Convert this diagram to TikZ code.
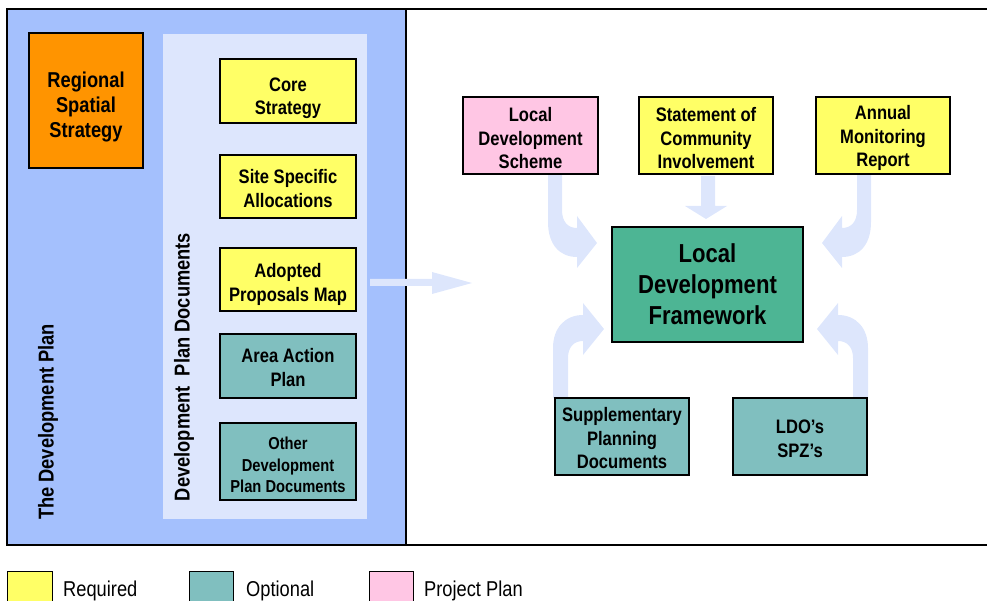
\documentclass[tikz,border=0pt]{standalone}
\usepackage{fontspec}
\setmainfont{Liberation Sans}[FakeStretch=0.85]
\newcommand\pushdn[1]{\rule{0pt}{#1}}
\begin{document}
\begin{tikzpicture}[x=1pt,y=-1pt,
  box/.style={draw=black, line width=1.2pt, inner sep=0pt, align=center,
    font=\bfseries\fontsize{19.5}{23.5}\selectfont},
  blockarrow/.style={fill=arrowblue, draw=none},
  lgd/.style={draw=black, line width=1pt},
  lgdtext/.style={anchor=base west, inner sep=0pt, font=\fontsize{21.5}{24}\selectfont},
  sidetext/.style={rotate=90, inner sep=0pt, font=\bfseries\fontsize{21.5}{24}\selectfont}
]
\definecolor{arrowblue}{RGB}{221,230,252}
\definecolor{panelblue}{RGB}{164,192,253}
\definecolor{innerblue}{RGB}{221,230,253}
\definecolor{orangebox}{RGB}{255,148,0}
\definecolor{yellowbox}{RGB}{255,255,102}
\definecolor{tealbox}{RGB}{128,191,191}
\definecolor{pinkbox}{RGB}{255,198,228}
\definecolor{greenbox}{RGB}{77,181,148}

\useasboundingbox (0,0) rectangle (987,601);
\clip (0,0) rectangle (987,601);

% panels
\fill[panelblue] (7,9) rectangle (406,545);
\fill[innerblue] (163,34) rectangle (367,519);
\draw[line width=1.3pt] (987,9) -- (7,9) -- (7,545) -- (987,545);
\draw[line width=1.3pt] (406,9) -- (406,545);

% side labels
\node[sidetext] (tdp) at (48,422) {The Development Plan};
\node[sidetext] (dpd) at (184,367) {Development\ \ Plan Documents};

% left boxes
\node[box, fill=orangebox, minimum width=114pt, minimum height=135pt,
  font=\bfseries\fontsize{21.5}{25}\selectfont] (rss) at (86,100.5)
  {\pushdn{28pt}Regional\\Spatial\\Strategy};
\node[box, fill=yellowbox, minimum width=136pt, minimum height=64pt] (core) at (288,91) {\pushdn{28pt}Core\\Strategy};
\node[box, fill=yellowbox, minimum width=136pt, minimum height=63pt] (site) at (288,186.5) {\pushdn{18pt}Site Specific\\Allocations};
\node[box, fill=yellowbox, minimum width=136pt, minimum height=63pt] (apm) at (288,279.5) {\pushdn{24pt}Adopted\\Proposals Map};
\node[box, fill=tealbox, minimum width=136pt, minimum height=64pt] (aap) at (288,366) {\pushdn{17pt}Area Action\\Plan};
\node[box, fill=tealbox, minimum width=136pt, minimum height=77pt,
  font=\bfseries\fontsize{17.3}{21.5}\selectfont] (odpd) at (288,461.5)
  {\pushdn{19.5pt}Other\\Development\\Plan Documents};

% horizontal arrow
\coordinate (hstart) at (370,282.5);
\fill[arrowblue] (hstart) ++(0,-3.5) -- (432,279) -- (432,272) -- (472,283) -- (432,294) -- (432,286) -- (370,286) -- cycle;

% block arrows (behind boxes)
\fill[blockarrow] (548,174) -- (548,222) .. controls (548,245) and (560,257) .. (577,257)
  -- (577,268) -- (597,243) -- (577,216) -- (577,228)
  .. controls (568,228) and (562,222) .. (562,210) -- (562,174) -- cycle;
\fill[blockarrow] (871,174) -- (871,222) .. controls (871,245) and (859,257) .. (842,257)
  -- (842,268) -- (822,243) -- (842,216) -- (842,228)
  .. controls (851,228) and (857,222) .. (857,210) -- (857,174) -- cycle;
\fill[blockarrow] (701,176) -- (701,206) -- (685,206) -- (706,219) -- (727,206) -- (715,206) -- (715,176) -- cycle;
\fill[blockarrow] (553,398) -- (553,348) .. controls (553,328) and (565,315) .. (583,315)
  -- (583,303) -- (604,329) -- (583,355) -- (583,341)
  .. controls (574,341) and (568,347) .. (568,358) -- (568,398) -- cycle;
\fill[blockarrow] (868,398) -- (868,348) .. controls (868,328) and (856,315) .. (838,315)
  -- (838,303) -- (817,329) -- (838,355) -- (838,341)
  .. controls (847,341) and (853,347) .. (853,358) -- (853,398) -- cycle;

% right boxes
\node[box, fill=pinkbox, minimum width=135pt, minimum height=77pt] (lds) at (530.5,135.5) {\pushdn{20pt}Local\\Development\\Scheme};
\node[box, fill=yellowbox, minimum width=134pt, minimum height=77pt] (sci) at (706,135.5) {\pushdn{20pt}Statement of\\Community\\Involvement};
\node[box, fill=yellowbox, minimum width=134pt, minimum height=77pt] (amr) at (883,135.5) {\pushdn{20pt}Annual\\Monitoring\\Report};
\node[box, fill=greenbox, minimum width=191pt, minimum height=115pt,
  font=\bfseries\fontsize{26}{31}\selectfont] (ldf) at (707.5,284.5) {Local\\Development\\Framework};
\node[box, fill=tealbox, minimum width=134pt, minimum height=77pt] (spd) at (622,436.5) {\pushdn{18pt}Supplementary\\Planning\\Documents};
\node[box, fill=tealbox, minimum width=134pt, minimum height=77pt] (ldo) at (800,436.5) {\pushdn{18pt}LDO’s\\SPZ’s};

% legend
\filldraw[lgd, fill=yellowbox] (7,571) rectangle (52,615);
\node[lgdtext] (lreq) at (63,596) {Required};
\filldraw[lgd, fill=tealbox] (189,571) rectangle (233,615);
\node[lgdtext] (lopt) at (246,596) {Optional};
\filldraw[lgd, fill=pinkbox] (369,571) rectangle (413,615);
\node[lgdtext] (lpp) at (424,596) {Project Plan};
\end{tikzpicture}
\end{document}
